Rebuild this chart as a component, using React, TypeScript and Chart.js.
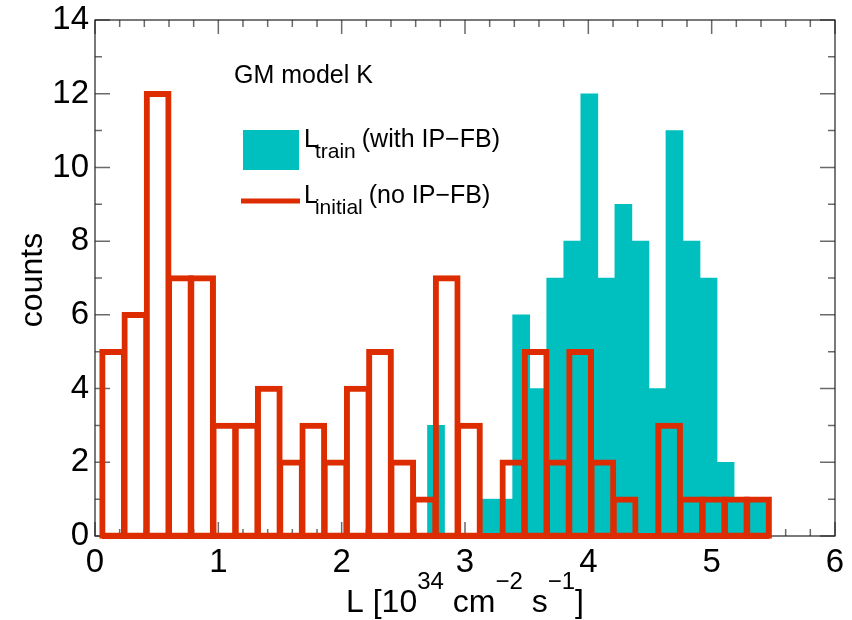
import React, { useEffect, useRef } from 'react';
import { Chart, registerables } from 'chart.js';

Chart.register(...registerables);

const FONT = "'Liberation Sans', Arial, Helvetica, sans-serif";
const TEAL = '#00BFBF';
const RED = '#DC2C00';

// L_initial (no IP-FB) histogram: 30 bins
const RED_START = 0.057;
const RED_WIDTH = 0.1803;
const redCounts = [5, 6, 12, 7, 7, 3, 3, 4, 2, 3, 2, 4, 5, 2, 1, 7, 3, 0, 2, 5, 2, 5, 2, 1, 0, 3, 1, 1, 1, 1];

// L_train (with IP-FB) histogram: 20 bins
const TEAL_START = 2.696;
const TEAL_WIDTH = 0.1381;
const tealCounts = [3, 0, 0, 1, 1, 6, 4, 7, 8, 12, 7, 9, 8, 4, 11, 8, 7, 2, 1, 1];

const xTickStep = 1;
const yTickStep = 2;
const xRange = [0, 6];
const yRange = [0, 14];

const annotationText = 'GM model K';
const legendRows = [
  { main: 'L', sub: 'train', tail: '(with IP\u2212FB)' },
  { main: 'L', sub: 'initial', tail: '(no IP\u2212FB)' },
];
const yTitle = 'counts';
const xTitleParts: [string, boolean][] = [
  ['L [10', false],
  ['34', true],
  [' cm', false],
  ['\u22122', true],
  [' s', false],
  ['\u22121', true],
  [']', false],
];

const redData = redCounts.map((v, i) => ({ x: RED_START + (i + 0.5) * RED_WIDTH, y: v }));
const tealData = tealCounts.map((v, i) => ({ x: TEAL_START + (i + 0.5) * TEAL_WIDTH, y: v }));
const baselineData = [
  { x: RED_START, y: 0 },
  { x: RED_START + redCounts.length * RED_WIDTH, y: 0 },
];

const decorPlugin = {
  id: 'decor',
  beforeDatasetsDraw(chart: any) {
    const { ctx, chartArea: a, scales } = chart;
    const xs = scales.x;
    const ys = scales.y;
    ctx.save();
    ctx.strokeStyle = '#6a6a6a';
    ctx.lineWidth = 1.5;
    ctx.beginPath();
    for (let i = yRange[0]; i <= yRange[1]; i++) {
      const py = ys.getPixelForValue(i);
      const len = i % 2 === 0 ? 15 : 7;
      ctx.moveTo(a.left, py);
      ctx.lineTo(a.left + len, py);
      ctx.moveTo(a.right, py);
      ctx.lineTo(a.right - len, py);
    }
    for (let i = 0; i <= 30; i++) {
      const px = xs.getPixelForValue(i * 0.2);
      const len = i % 5 === 0 ? 14 : 7;
      ctx.moveTo(px, a.bottom);
      ctx.lineTo(px, a.bottom - len);
      ctx.moveTo(px, a.top);
      ctx.lineTo(px, a.top + len);
    }
    ctx.stroke();
    ctx.strokeStyle = '#222';
    ctx.lineWidth = 1.2;
    ctx.strokeRect(a.left, a.top, a.right - a.left, a.bottom - a.top);
    ctx.restore();
  },
  afterDraw(chart: any) {
    const { ctx, chartArea: a } = chart;
    ctx.save();
    ctx.fillStyle = '#000';
    ctx.textBaseline = 'alphabetic';
    ctx.textAlign = 'left';

    // annotation
    ctx.font = `25px ${FONT}`;
    ctx.fillText(annotationText, 234, 83);

    // legend
    ctx.fillStyle = TEAL;
    ctx.fillRect(243, 130, 56, 40);
    ctx.strokeStyle = RED;
    ctx.lineWidth = 5;
    ctx.beginPath();
    ctx.moveTo(241, 201);
    ctx.lineTo(300, 201);
    ctx.stroke();

    const baselines = [147, 203];
    legendRows.forEach((row, k) => {
      const by = baselines[k];
      let x = 304;
      ctx.fillStyle = '#000';
      ctx.font = `25px ${FONT}`;
      ctx.fillText(row.main, x, by);
      x += ctx.measureText(row.main).width - 3;
      ctx.font = `21px ${FONT}`;
      ctx.fillText(row.sub, x, by + 11);
      x += ctx.measureText(row.sub).width + 6;
      ctx.font = `25px ${FONT}`;
      ctx.fillText(row.tail, x, by);
    });

    // y title
    ctx.save();
    ctx.font = `32px ${FONT}`;
    ctx.translate(42, 280);
    ctx.rotate(-Math.PI / 2);
    ctx.textAlign = 'center';
    ctx.fillText(yTitle, 0, 0);
    ctx.restore();

    // x title with superscripts
    const mainFont = `32px ${FONT}`;
    const supFont = `24px ${FONT}`;
    let total = 0;
    for (const [t, sup] of xTitleParts) {
      ctx.font = sup ? supFont : mainFont;
      total += ctx.measureText(t).width;
    }
    let x = (a.left + a.right) / 2 - total / 2;
    const by = 612;
    for (const [t, sup] of xTitleParts) {
      ctx.font = sup ? supFont : mainFont;
      ctx.fillText(t, x, sup ? by - 23 : by);
      x += ctx.measureText(t).width;
    }
    ctx.restore();
  },
};

export default function App() {
  const canvasRef = useRef<HTMLCanvasElement | null>(null);

  useEffect(() => {
    document.body.style.margin = '0';
    const canvas = canvasRef.current;
    if (!canvas) return;
    const chart = new Chart(canvas, {
      type: 'bar',
      data: {
        datasets: [
          {
            type: 'bar',
            label: 'L_initial (no IP-FB)',
            data: redData as any,
            xAxisID: 'xr',
            yAxisID: 'y',
            backgroundColor: 'rgba(0,0,0,0)',
            borderColor: RED,
            borderWidth: 0.5,
            inflateAmount: 2.75,
            borderSkipped: false,
            barPercentage: 1,
            categoryPercentage: 1,
            grouped: false,
            order: 0,
            clip: false,
          } as any,
          {
            type: 'line',
            label: 'baseline',
            data: baselineData as any,
            xAxisID: 'x',
            yAxisID: 'y',
            borderColor: RED,
            borderWidth: 6,
            pointRadius: 0,
            order: 1,
            clip: false,
          } as any,
          {
            type: 'bar',
            label: 'L_train (with IP-FB)',
            data: tealData as any,
            xAxisID: 'xt',
            yAxisID: 'y',
            backgroundColor: TEAL,
            borderWidth: 0,
            barPercentage: 1,
            categoryPercentage: 1,
            grouped: false,
            order: 2,
          } as any,
        ],
      },
      options: {
        responsive: false,
        animation: false,
        events: [],
        layout: { padding: { left: 0, right: 17, top: 20, bottom: 0 } },
        plugins: {
          legend: { display: false },
          tooltip: { enabled: false },
        },
        scales: {
          x: {
            type: 'linear',
            position: 'bottom',
            min: xRange[0],
            max: xRange[1],
            offset: false,
            grid: { display: false, drawTicks: false, offset: false },
            border: { display: false },
            ticks: {
              stepSize: xTickStep,
              color: '#000',
              padding: 7,
              maxRotation: 0,
              autoSkip: false,
              font: { family: FONT, size: 33 },
            },
            afterFit: (s: any) => {
              s.height = 84;
              s.paddingLeft = 0;
              s.paddingRight = 0;
            },
          },
          xr: {
            type: 'linear',
            position: 'bottom',
            display: false,
            min: xRange[0],
            max: xRange[1],
            offset: false,
            grid: { offset: false },
            ticks: { stepSize: 1 },
          },
          xt: {
            type: 'linear',
            position: 'bottom',
            display: false,
            min: xRange[0],
            max: xRange[1],
            offset: false,
            grid: { offset: false },
            ticks: { stepSize: 1 },
          },
          y: {
            type: 'linear',
            position: 'left',
            min: yRange[0],
            max: yRange[1],
            grid: { display: false, drawTicks: false },
            border: { display: false },
            ticks: {
              stepSize: yTickStep,
              color: '#000',
              padding: 6,
              font: { family: FONT, size: 33 },
            },
            afterFit: (s: any) => {
              s.width = 95;
              s.paddingTop = 0;
              s.paddingBottom = 0;
            },
          },
        },
      } as any,
      plugins: [decorPlugin],
    });
    return () => chart.destroy();
  }, []);

  return (
    <div style={{ position: 'fixed', left: 0, top: 0, width: 852, height: 620, background: '#fff' }}>
      <canvas ref={canvasRef} width={852} height={620} style={{ display: 'block' }} />
    </div>
  );
}
